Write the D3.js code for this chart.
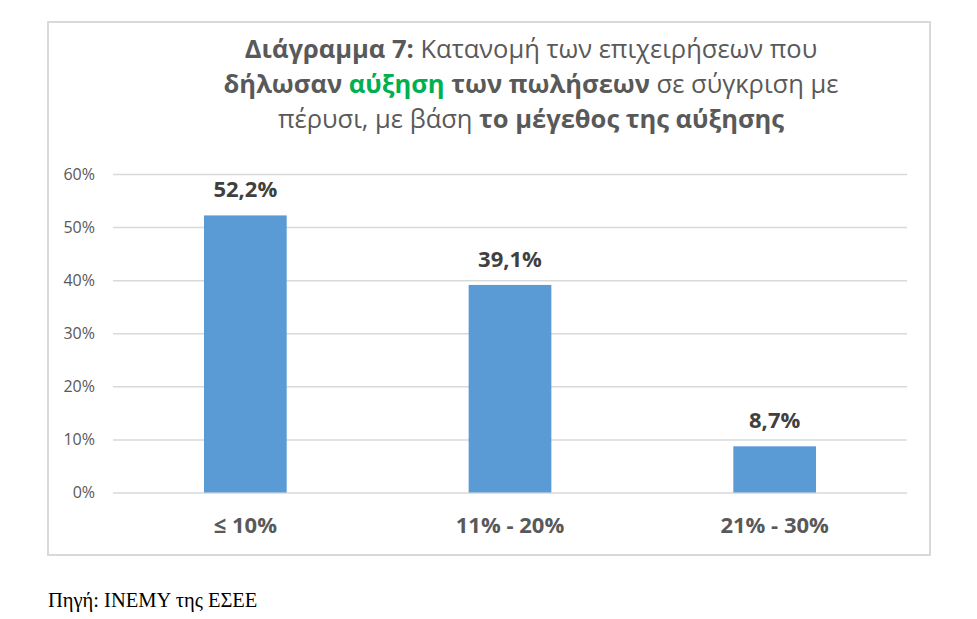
<!DOCTYPE html>
<html>
<head>
<meta charset="utf-8">
<script src="https://cdn.jsdelivr.net/npm/d3@7"></script>
<style>
  body { margin: 0; background: #fff; }
  svg { display: block; }
</style>
</head>
<body>
<div id="chart"></div>
<script>
// chart data
const categories = ["≤ 10%", "11% - 20%", "21% - 30%"];
const values = [52.2, 39.1, 8.7];
const valueLabels = ["52,2%", "39,1%", "8,7%"];
const yTicks = [0, 10, 20, 30, 40, 50, 60];

const width = 977, height = 619;
const plot = { left: 113, right: 907, top: 174, bottom: 492.5 };
const font = "'Open Sans', 'Noto Sans', sans-serif";

const svg = d3.select("#chart")
    .append("svg")
    .attr("width", width)
    .attr("height", height);

svg.append("rect")
    .attr("width", width)
    .attr("height", height)
    .attr("fill", "#fff");

// chart frame
svg.append("rect")
    .attr("x", 48)
    .attr("y", 22)
    .attr("width", 882)
    .attr("height", 533)
    .attr("fill", "none")
    .attr("stroke", "#d9d9d9")
    .attr("stroke-width", 2);

// title
const titleLines = [
    [{t: "Διάγραμμα 7:", b: true}, {t: " Κατανομή των επιχειρήσεων που"}],
    [{t: "δήλωσαν ", b: true}, {t: "αύξηση", b: true, c: "#00b050"}, {t: " των πωλήσεων", b: true}, {t: " σε σύγκριση με"}],
    [{t: "πέρυσι, με βάση "}, {t: "το μέγεθος της αύξησης", b: true}]
];
const title = svg.append("text")
    .attr("text-anchor", "middle")
    .attr("font-family", font)
    .attr("font-size", 25.5)
    .attr("fill", "#595959");
titleLines.forEach((line, i) => {
    const l = title.append("tspan")
        .attr("x", 531)
        .attr("y", 58 + i * 35);
    line.forEach(part => {
        l.append("tspan")
            .attr("font-weight", part.b ? "bold" : "normal")
            .attr("fill", part.c || "#595959")
            .text(part.t);
    });
});

const x = d3.scaleBand()
    .domain(categories)
    .range([plot.left, plot.right])
    .paddingInner(0.6875)
    .paddingOuter(0.34375);

const y = d3.scaleLinear()
    .domain([0, 60])
    .range([plot.bottom, plot.top]);

// gridlines + y labels
const yAxis = d3.axisLeft(y)
    .tickValues(yTicks)
    .tickSize(-(plot.right - plot.left))
    .tickPadding(18)
    .tickFormat(d => d + "%");
const gy = svg.append("g")
    .attr("transform", "translate(" + plot.left + ",0)")
    .call(yAxis);
gy.select(".domain").remove();
gy.selectAll(".tick line")
    .attr("stroke", "#d9d9d9")
    .attr("stroke-width", 1.5);
gy.selectAll(".tick text")
    .attr("font-family", font)
    .attr("font-size", 16)
    .attr("fill", "#595959");

// bars
svg.selectAll("rect.bar")
    .data(values)
    .enter()
    .append("rect")
    .attr("class", "bar")
    .attr("x", (d, i) => x(categories[i]))
    .attr("y", d => y(d))
    .attr("width", x.bandwidth())
    .attr("height", d => y(0) - y(d))
    .attr("fill", "#5b9bd5");

// value labels
svg.selectAll("text.value")
    .data(values)
    .enter()
    .append("text")
    .attr("class", "value")
    .attr("x", (d, i) => x(categories[i]) + x.bandwidth() / 2)
    .attr("y", d => y(d) - 18)
    .attr("text-anchor", "middle")
    .attr("font-family", font)
    .attr("font-size", 22)
    .attr("font-weight", "bold")
    .attr("fill", "#404040")
    .text((d, i) => valueLabels[i]);

// x labels
const xAxis = d3.axisBottom(x).tickSize(0).tickPadding(0);
const gx = svg.append("g")
    .attr("transform", "translate(0," + plot.bottom + ")")
    .call(xAxis);
gx.select(".domain").remove();
gx.selectAll(".tick text")
    .attr("dy", null)
    .attr("y", 40)
    .attr("font-family", font)
    .attr("font-size", 22)
    .attr("font-weight", "bold")
    .attr("fill", "#595959");

// source note
svg.append("text")
    .attr("x", 48)
    .attr("y", 607)
    .attr("font-family", "'Liberation Serif', 'DejaVu Serif', serif")
    .attr("font-size", 20.5)
    .attr("fill", "#000")
    .text("Πηγή: ΙΝΕΜΥ της ΕΣΕΕ");
</script>
</body>
</html>
